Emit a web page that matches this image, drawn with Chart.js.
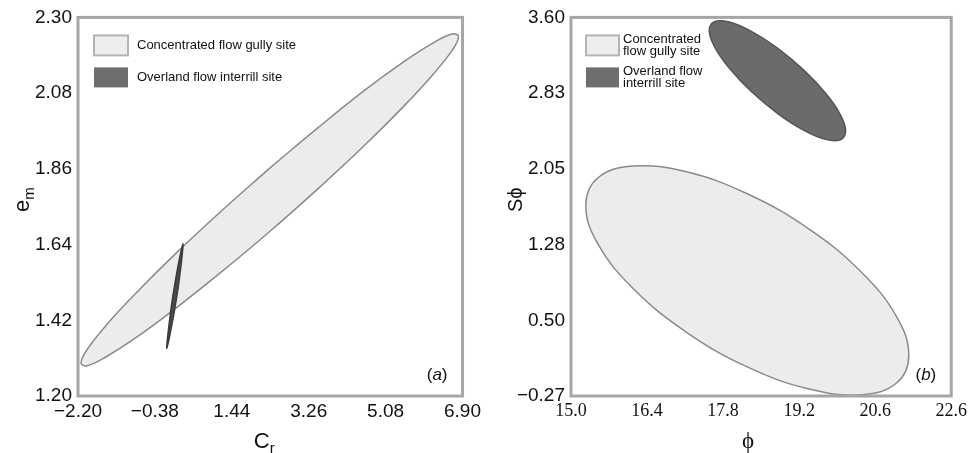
<!DOCTYPE html>
<html>
<head>
<meta charset="utf-8">
<script src="https://cdn.jsdelivr.net/npm/chart.js@4.4.1/dist/chart.umd.min.js"></script>
<style>
html, body { margin: 0; padding: 0; background: #fff; }
#wrap { position: relative; width: 971px; height: 453px; overflow: hidden; }
#left { position: absolute; left: 0; top: 0; }
#right { position: absolute; left: 485px; top: 0; }
</style>
</head>
<body>
<div id="wrap">
  <canvas id="left" width="485" height="453"></canvas>
  <canvas id="right" width="486" height="453"></canvas>
</div>
<script>
// panel (a): Cr vs em
const crTicks = [-2.20, -0.38, 1.44, 3.26, 5.08, 6.90];
const crLabels = ['\u22122.20', '\u22120.38', '1.44', '3.26', '5.08', '6.90'];
const emTicks = [1.20, 1.42, 1.64, 1.86, 2.08, 2.30];
const emLabels = ['1.20', '1.42', '1.64', '1.86', '2.08', '2.30'];

// outline of the gully ellipse, starting half way along the upper edge
const gullyCr = [2.338, 3.496, 4.571, 5.495, 6.207, 6.654, 6.805, 6.654, 6.207, 5.495, 4.571, 3.496, 2.338,
                 1.180, 0.104, -0.820, -1.531, -1.978, -2.129, -1.978, -1.531, -0.820, 0.104, 1.180, 2.338];
const gullyEm = [1.862, 1.981, 2.087, 2.170, 2.226, 2.252, 2.244, 2.204, 2.135, 2.040, 1.927, 1.804, 1.678,
                 1.559, 1.454, 1.370, 1.314, 1.288, 1.296, 1.336, 1.406, 1.500, 1.613, 1.736, 1.862];
// the very thin interrill ellipse
const interrillCr = [0.071, 0.199, 0.282, 0.114, -0.014, -0.096, 0.071];
const interrillEm = [1.439, 1.541, 1.642, 1.541, 1.439, 1.338, 1.439];

// panel (b): phi vs S-phi
const phiTicks = [15.0, 16.4, 17.8, 19.2, 20.6, 22.0];
const phiLabels = ['15.0', '16.4', '17.8', '19.2', '20.6', '22.6'];
const sphiTicks = [-0.27, 0.50, 1.28, 2.05, 2.83, 3.60];
const sphiLabels = ['\u22120.27', '0.50', '1.28', '2.05', '2.83', '3.60'];

// outlines go once round and overlap the first two points so the curve closes smoothly
const gullyPhi = [17.107, 18.245, 19.384, 20.347, 20.993, 21.218, 20.993, 20.347, 19.384, 18.245,
                  17.107, 16.144, 15.498, 15.273, 15.498, 16.144, 17.107, 18.245, 19.384];
const gullySphi = [2.024, 1.797, 1.436, 0.995, 0.542, 0.144, -0.137, -0.256, -0.199, 0.027,
                   0.389, 0.829, 1.282, 1.680, 1.961, 2.080, 2.024, 1.797, 1.436];
const interrillPhi = [18.320, 18.800, 19.280, 19.687, 19.960, 20.055, 19.960, 19.687, 19.280, 18.800,
                      18.320, 17.913, 17.640, 17.545, 17.640, 17.913, 18.320, 18.800, 19.280];
const interrillSphi = [3.458, 3.287, 3.064, 2.824, 2.605, 2.438, 2.350, 2.353, 2.448, 2.620,
                       2.842, 3.083, 3.302, 3.468, 3.556, 3.553, 3.458, 3.287, 3.064];

const SANS = '"Liberation Sans", Arial, Helvetica, sans-serif';
const SERIF = '"Liberation Serif", "DejaVu Serif", "Times New Roman", serif';

function pts(xs, ys) {
    return xs.map((x, i) => ({x: x, y: ys[i]}));
}

function axis(ticks, labels, family, size, fit, isX) {
    return {
        type: 'linear',
        min: ticks[0],
        max: ticks[ticks.length - 1],
        grid: {display: false, drawTicks: false},
        border: {display: false},
        afterBuildTicks: function(s) {
            s.ticks = ticks.map(v => ({value: v}));
        },
        afterFit: function(s) {
            if (isX) s.height = fit; else s.width = fit;
        },
        ticks: {
            autoSkip: false,
            maxRotation: 0,
            padding: isX ? 4 : 6,
            color: '#111',
            font: {family: family, size: size},
            callback: (v, i) => labels[i]
        }
    };
}

function ellipse(label, data, fillCol, lineCol, width, order, wrapped) {
    const ds = {
        label: label,
        data: data,
        showLine: true,
        tension: 0.4,
        fill: 'shape',
        backgroundColor: fillCol,
        borderColor: lineCol,
        borderWidth: width,
        pointRadius: 0,
        order: order
    };
    if (wrapped) {
        // the first and last pieces are drawn again inside the loop, so skip their stroke
        ds.segment = {
            borderColor: c => (c.p0DataIndex === 0 || c.p1DataIndex === data.length - 1) ? 'rgba(0,0,0,0)' : undefined
        };
    }
    return ds;
}

// frame, inset legend, panel tag and axis titles
const decor = {
    id: 'decor',
    afterDraw(chart, args, o) {
        const ctx = chart.ctx;
        const ca = chart.chartArea;
        ctx.save();
        ctx.strokeStyle = '#a6a6a6';
        ctx.lineWidth = 3;
        ctx.strokeRect(ca.left, ca.top, ca.right - ca.left, ca.bottom - ca.top);

        // legend
        o.legend.forEach(function(it, k) {
            const bx = ca.left + o.boxX, by = ca.top + 18 + k * 32;
            ctx.fillStyle = it.fill;
            ctx.fillRect(bx, by, o.boxW, 20);
            if (it.stroke) {
                ctx.strokeStyle = it.stroke;
                ctx.lineWidth = 2;
                ctx.strokeRect(bx, by, o.boxW, 20);
            }
            ctx.fillStyle = '#111';
            ctx.font = '13px ' + SANS;
            ctx.textBaseline = 'middle';
            ctx.textAlign = 'left';
            const cy = by + 10 - (it.lines.length - 1) * 6;
            it.lines.forEach(function(t, j) {
                ctx.fillText(t, ca.left + o.textX, cy + j * 12);
            });
        });

        // panel tag like (a)
        ctx.textBaseline = 'alphabetic';
        ctx.fillStyle = '#111';
        const up = '17px ' + SANS, it = 'italic 17px ' + SANS;
        ctx.font = up;
        const wp = ctx.measureText('(').width, wq = ctx.measureText(')').width;
        ctx.font = it;
        const wl = ctx.measureText(o.tag).width;
        let tx = ca.right - 15 - (wp + wl + wq);
        const ty = ca.bottom - 16;
        ctx.font = up; ctx.fillText('(', tx, ty); tx += wp;
        ctx.font = it; ctx.fillText(o.tag, tx, ty); tx += wl;
        ctx.font = up; ctx.fillText(')', tx, ty);

        // x title
        drawTitle(ctx, o.xTitle, (ca.left + ca.right) / 2 + o.xTitle.dx, ca.bottom + 52, 0);
        // y title (rotated)
        drawTitle(ctx, o.yTitle, ca.left - 49, (ca.top + ca.bottom) / 2 - 7, -Math.PI / 2);
        ctx.restore();
    }
};

function drawTitle(ctx, t, x, y, rot) {
    ctx.save();
    ctx.translate(x, y);
    ctx.rotate(rot);
    ctx.fillStyle = '#111';
    ctx.textBaseline = 'alphabetic';
    ctx.textAlign = 'left';
    ctx.font = t.size + 'px ' + t.family;
    const wm = ctx.measureText(t.main).width;
    let ws = 0;
    if (t.sub) {
        ctx.font = Math.round(t.size * 0.68) + 'px ' + t.family;
        ws = ctx.measureText(t.sub).width;
    }
    const x0 = -(wm + ws) / 2;
    ctx.font = t.size + 'px ' + t.family;
    ctx.fillText(t.main, x0, 0);
    if (t.sub) {
        ctx.font = Math.round(t.size * 0.68) + 'px ' + t.family;
        ctx.fillText(t.sub, x0 + wm, 5);
    }
    ctx.restore();
}

const baseOpts = {
    responsive: false,
    animation: false,
    events: []
};

new Chart(document.getElementById('left'), {
    type: 'scatter',
    data: {
        datasets: [
            ellipse('Overland flow interrill site', pts(interrillCr, interrillEm), '#4a4a4a', '#3a3a3a', 1.5, 0, false),
            ellipse('Concentrated flow gully site', pts(gullyCr, gullyEm), '#ececec', '#8a8a8a', 1.5, 1, false)
        ]
    },
    options: Object.assign({}, baseOpts, {
        layout: {padding: {left: 0, top: 13, right: 22, bottom: 0}},
        scales: {
            x: axis(crTicks, crLabels, SANS, 19, 57, true),
            y: axis(emTicks, emLabels, SANS, 19, 78, false)
        },
        plugins: {
            legend: {display: false},
            tooltip: {enabled: false},
            decor: {
                boxX: 16, boxW: 34, textX: 59, tag: 'a',
                legend: [
                    {lines: ['Concentrated flow gully site'], fill: '#eeeeee', stroke: '#b4b4b4'},
                    {lines: ['Overland flow interrill site'], fill: '#6e6e6e'}
                ],
                xTitle: {main: 'C', sub: 'r', size: 22, family: SANS, dx: -6},
                yTitle: {main: 'e', sub: 'm', size: 22, family: SANS}
            }
        }
    }),
    plugins: [decor]
});

new Chart(document.getElementById('right'), {
    type: 'scatter',
    data: {
        datasets: [
            ellipse('Overland flow interrill site', pts(interrillPhi, interrillSphi), '#6b6b6b', '#555555', 1.5, 0, true),
            ellipse('Concentrated flow gully site', pts(gullyPhi, gullySphi), '#ececec', '#8a8a8a', 1.5, 1, true)
        ]
    },
    options: Object.assign({}, baseOpts, {
        layout: {padding: {left: 0, top: 13, right: 15, bottom: 0}},
        scales: {
            x: axis(phiTicks, phiLabels, SERIF, 18, 57, true),
            y: axis(sphiTicks, sphiLabels, SANS, 19, 86, false)
        },
        plugins: {
            legend: {display: false},
            tooltip: {enabled: false},
            decor: {
                boxX: 15, boxW: 33, textX: 52, tag: 'b',
                legend: [
                    {lines: ['Concentrated', 'flow gully site'], fill: '#eeeeee', stroke: '#b4b4b4'},
                    {lines: ['Overland flow', 'interrill site'], fill: '#6e6e6e'}
                ],
                xTitle: {main: '\u03d5', size: 23, family: SERIF, dx: -13},
                yTitle: {main: 'S\u03d5', size: 20, family: SANS}
            }
        }
    }),
    plugins: [decor]
});
</script>
</body>
</html>
